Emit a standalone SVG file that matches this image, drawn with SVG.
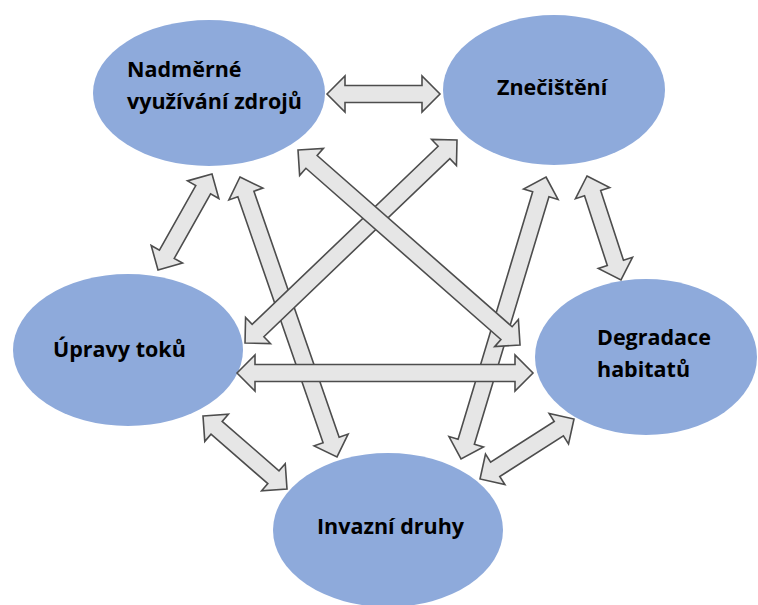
<svg xmlns="http://www.w3.org/2000/svg" width="758" height="605" viewBox="0 0 758 605">
<style>
.node{fill:#8eaadb;}
.lbl{font-family:"Open Sans","Liberation Sans",sans-serif;font-weight:700;font-size:21.5px;fill:#000;}
.arr{fill:#e6e6e6;stroke:#4d4d4d;stroke-width:1.6;stroke-linejoin:miter;}
</style>
<rect width="758" height="605" fill="#fff"/>
<g id="n1"><ellipse class="node" cx="209" cy="93" rx="116" ry="73"/><text class="lbl" x="127" y="77">Nadměrné</text><text class="lbl" x="127" y="109">využívání zdrojů</text></g>
<g id="n2"><ellipse class="node" cx="554" cy="90" rx="111" ry="75"/><text class="lbl" x="497" y="95">Znečištění</text></g>
<g id="n3"><ellipse class="node" cx="128" cy="350" rx="115" ry="76"/><text class="lbl" x="53" y="357">Úpravy toků</text></g>
<g id="n4"><ellipse class="node" cx="646" cy="357" rx="111" ry="78"/><text class="lbl" x="597" y="345">Degradace</text><text class="lbl" x="597" y="377">habitatů</text></g>
<g id="n5"><ellipse class="node" cx="388" cy="530" rx="115" ry="77"/><text class="lbl" x="317" y="534">Invazní druhy</text></g>
<g id="connectors">
<path class="arr" transform="translate(240,177) rotate(70.89)" d="M0,0L18,-18L18,-8.5L278.3,-8.5L278.3,-18L296.3,0L278.3,18L278.3,8.5L18,8.5L18,18Z"/>
<path class="arr" transform="translate(546,177) rotate(106.77)" d="M0,0L18,-18L18,-8.5L276.5,-8.5L276.5,-18L294.5,0L276.5,18L276.5,8.5L18,8.5L18,18Z"/>
<path class="arr" transform="translate(457,140) rotate(136.24)" d="M0,0L18,-18L18,-8.5L275.5,-8.5L275.5,-18L293.5,0L275.5,18L275.5,8.5L18,8.5L18,18Z"/>
<path class="arr" transform="translate(298,150) rotate(41.29)" d="M0,0L18,-18L18,-8.5L277.5,-8.5L277.5,-18L295.5,0L277.5,18L277.5,8.5L18,8.5L18,18Z"/>
<path class="arr" transform="translate(327,94)" d="M0,0L18,-18L18,-8.5L95,-8.5L95,-18L113,0L95,18L95,8.5L18,8.5L18,18Z"/>
<path class="arr" transform="translate(237,373)" d="M0,0L18,-18L18,-8.5L278,-8.5L278,-18L296,0L278,18L278,8.5L18,8.5L18,18Z"/>
<path class="arr" transform="translate(212,174) rotate(119.36)" d="M0,0L18,-18L18,-8.5L92.1,-8.5L92.1,-18L110.1,0L92.1,18L92.1,8.5L18,8.5L18,18Z"/>
<path class="arr" transform="translate(587,176) rotate(71.9)" d="M0,0L18,-18L18,-8.5L91.4,-8.5L91.4,-18L109.4,0L91.4,18L91.4,8.5L18,8.5L18,18Z"/>
<path class="arr" transform="translate(203,416) rotate(40.99)" d="M0,0L18,-18L18,-8.5L93.3,-8.5L93.3,-18L111.3,0L93.3,18L93.3,8.5L18,8.5L18,18Z"/>
<path class="arr" transform="translate(574,419) rotate(147.45)" d="M0,0L18,-18L18,-8.5L93.5,-8.5L93.5,-18L111.5,0L93.5,18L93.5,8.5L18,8.5L18,18Z"/>
</g>
</svg>
